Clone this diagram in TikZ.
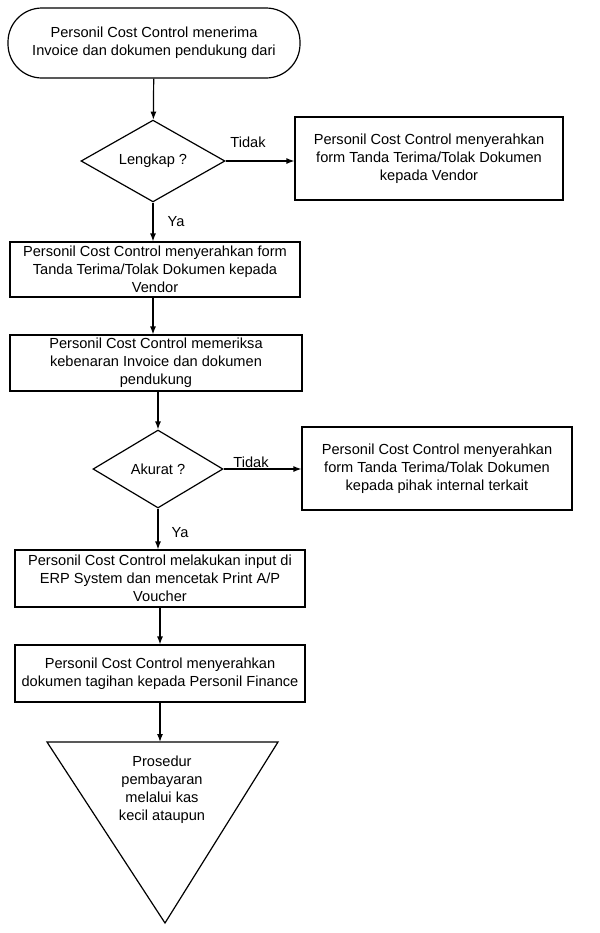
\documentclass[tikz,border=0pt]{standalone}
\usepackage{fontspec}
\setmainfont{Liberation Sans}
\usetikzlibrary{shapes.geometric,arrows.meta,calc}

\begin{document}
\begin{tikzpicture}[x=0.5pt,y=-0.5pt,
    font=\fontsize{7.3}{9}\selectfont,
    every node/.style={align=center, inner sep=0pt},
    procbox/.style={draw, line width=0.6pt, rectangle, minimum width=145pt, minimum height=28pt},
    decision/.style={draw, line width=0.6pt, diamond, minimum width=70pt, minimum height=39pt},
    terminal/.style={draw, line width=0.6pt, rectangle, rounded corners=17pt, minimum width=146pt, minimum height=35pt},
    flow/.style={line width=0.6pt, -{Latex[length=4pt,width=3pt]}}]
    \useasboundingbox (0,0) rectangle (600,933);

    % Start
    \node[terminal] (start) at (154,43) {Personil Cost Control menerima\\Invoice dan dokumen pendukung dari};

    % Lengkap?
    \node[decision, minimum width=72pt] (lengkap) at (153,161) {Lengkap ?};
    \node[procbox, minimum width=134pt, minimum height=41.5pt] (tolakvendor) at (429,158.5)
        {Personil Cost Control menyerahkan\\form Tanda Terima/Tolak Dokumen\\kepada Vendor};
    \node (tidaka) at (248,142) {Tidak};
    \node (yaa) at (176,222) {Ya};

    % Serah terima
    \node[procbox, minimum height=27.5pt] (serah) at (155,269.5)
        {Personil Cost Control menyerahkan form\\Tanda Terima/Tolak Dokumen kepada\\Vendor};
    \node[procbox, minimum width=146pt] (periksa) at (156,363)
        {Personil Cost Control memeriksa\\kebenaran Invoice dan dokumen\\pendukung};

    % Akurat?
    \node[decision, minimum width=65pt] (akurat) at (158,469) {Akurat ?};
    \node[procbox, minimum width=135pt, minimum height=41.5pt] (tolakinternal) at (437,468.5)
        {Personil Cost Control menyerahkan\\form Tanda Terima/Tolak Dokumen\\kepada pihak internal terkait};
    \node (tidakb) at (251,462) {Tidak};
    \node (yab) at (180,533) {Ya};

    % Input dan penyerahan
    \node[procbox, minimum height=28.5pt] (input) at (160,578.5)
        {Personil Cost Control melakukan input di\\ERP System dan mencetak Print A/P\\Voucher};
    \node[procbox, minimum height=28.5pt] (finance) at (160,673.5)
        {Personil Cost Control menyerahkan\\dokumen tagihan kepada Personil Finance};

    % End
    \coordinate (trileft) at (47,742);
    \coordinate (triright) at (278,742);
    \coordinate (tribottom) at (165,923);
    \coordinate (tritop) at (160,742);
    \draw[line width=0.6pt] (trileft) -- (triright) -- (tribottom) -- cycle;
    \node (prosedur) at (162,790) {Prosedur\\pembayaran\\melalui kas\\kecil ataupun};

    % Connectors
    \draw[flow] (start) -- (lengkap);
    \draw[flow] (lengkap.east) -- (lengkap.east -| tolakvendor.west);
    \draw[flow] (lengkap.south) -- (lengkap.south |- serah.north);
    \draw[flow] (lengkap.south |- serah.south) -- (lengkap.south |- periksa.north);
    \draw[flow] (akurat.north |- periksa.south) -- (akurat.north);
    \draw[flow] (akurat.east) -- (akurat.east -| tolakinternal.west);
    \draw[flow] (akurat.south) -- (akurat.south |- input.north);
    \draw[flow] (input) -- (finance);
    \draw[flow] (finance.south) -- (tritop);
\end{tikzpicture}
\end{document}
